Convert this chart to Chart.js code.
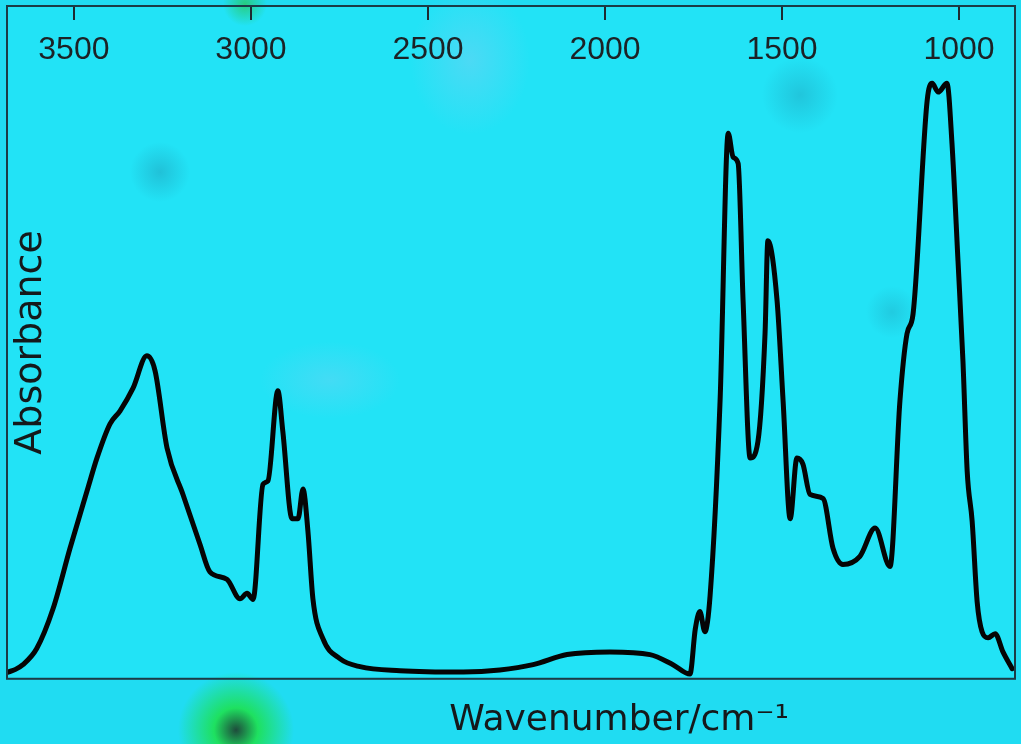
<!DOCTYPE html>
<html>
<head>
<meta charset="utf-8">
<script src="https://cdn.jsdelivr.net/npm/chart.js@4"></script>
<style>
  html, body { margin: 0; padding: 0; }
  body {
    width: 1021px; height: 744px; overflow: hidden;
    background:
      radial-gradient(circle at 236px 730px, rgba(30,60,40,0.9) 0, rgba(30,225,80,0.9) 22px, rgba(40,225,140,0) 58px),
      radial-gradient(circle at 245px 4px, rgba(40,200,100,0.8) 0, rgba(40,220,160,0) 22px),
      radial-gradient(circle at 160px 172px, rgba(30,130,160,0.35) 0, rgba(30,130,160,0) 30px),
      radial-gradient(circle at 800px 95px, rgba(30,130,160,0.3) 0, rgba(30,130,160,0) 38px),
      radial-gradient(circle at 892px 312px, rgba(30,130,160,0.25) 0, rgba(30,130,160,0) 26px),
      radial-gradient(ellipse at 470px 60px, rgba(200,190,240,0.25) 0, rgba(200,190,240,0) 60px),
      radial-gradient(ellipse at 330px 380px, rgba(200,190,240,0.2) 0, rgba(200,190,240,0) 70px),
      linear-gradient(#22e3f6, #22e3f6) 7px 6px / 1008px 671px no-repeat,
      #20dcf2;
  }
  #wrap { position: relative; width: 1021px; height: 744px; }
  canvas { display: block; }
</style>
</head>
<body>
<div id="wrap"><canvas id="ftir" width="1021" height="744"></canvas></div>
<script>
// FTIR spectrum
var wavenumbers = [
    3686, 3665, 3644, 3605, 3559, 3511, 3463, 3435, 3398, 3370,
    3333, 3294, 3271, 3237, 3192, 3144, 3116, 3068, 3031, 3011,
    2994, 2966, 2952, 2924, 2910, 2884, 2867, 2853, 2839, 2825,
    2797, 2749, 2692, 2579, 2400, 2297, 2203, 2107, 1986, 1873,
    1808, 1760, 1745, 1732, 1718, 1703, 1675, 1652, 1638, 1624,
    1610, 1590, 1568, 1548, 1540, 1514, 1497, 1477, 1458, 1441,
    1421, 1384, 1356, 1328, 1280, 1237, 1195, 1167, 1147, 1130,
    1090, 1076, 1059, 1034, 1020, 1003, 989, 977, 963, 949,
    935, 918, 898, 876, 850
];
var absorbance = [
    0.010, 0.014, 0.021, 0.045, 0.104, 0.194, 0.279, 0.328, 0.379, 0.398,
    0.432, 0.480, 0.458, 0.343, 0.274, 0.200, 0.159, 0.148, 0.119, 0.127,
    0.118, 0.289, 0.294, 0.428, 0.368, 0.238, 0.238, 0.282, 0.219, 0.119,
    0.060, 0.030, 0.018, 0.012, 0.010, 0.013, 0.021, 0.036, 0.040, 0.036,
    0.021, 0.007, 0.074, 0.100, 0.070, 0.125, 0.413, 0.811, 0.775, 0.766,
    0.562, 0.328, 0.353, 0.513, 0.651, 0.562, 0.413, 0.238, 0.328, 0.319,
    0.274, 0.268, 0.194, 0.170, 0.182, 0.224, 0.167, 0.413, 0.513, 0.542,
    0.860, 0.885, 0.872, 0.885, 0.796, 0.621, 0.472, 0.308, 0.234, 0.115,
    0.070, 0.061, 0.067, 0.040, 0.015
];
var tickValues = [1000, 1500, 2000, 2500, 3000, 3500];
var xMin = 842, xMax = 3689;

var points = wavenumbers.map(function (wn, i) {
    return { x: wn, y: absorbance[i] };
});

// box round the plot area
var frame = {
    id: 'frame',
    afterDraw: function (chart) {
        var a = chart.chartArea, ctx = chart.ctx;
        ctx.save();
        ctx.strokeStyle = '#1b3b46';
        ctx.lineWidth = 2;
        ctx.strokeRect(a.left, a.top, a.right - a.left, a.bottom - a.top);
        ctx.restore();
    }
};

new Chart(document.getElementById('ftir'), {
    type: 'line',
    data: {
        datasets: [{
            data: points,
            borderColor: '#050505',
            borderWidth: 5,
            borderJoinStyle: 'round',
            borderCapStyle: 'round',
            pointRadius: 0,
            cubicInterpolationMode: 'monotone',
            fill: false
        }]
    },
    options: {
        responsive: false,
        animation: false,
        layout: { padding: { top: 6, left: 7, right: 6, bottom: 0 } },
        plugins: { legend: { display: false }, tooltip: { enabled: false } },
        scales: {
            x: {
                type: 'linear',
                position: 'top',
                reverse: true,
                min: xMin,
                max: xMax,
                afterBuildTicks: function (scale) {
                    scale.ticks = tickValues.map(function (v) { return { value: v }; });
                },
                // ticks and labels sit inside the frame
                afterFit: function (scale) { scale.height = 0; },
                border: { display: false },
                grid: {
                    drawOnChartArea: false,
                    drawTicks: true,
                    tickLength: -14,
                    color: '#1e2a30',
                    lineWidth: 2
                },
                ticks: {
                    mirror: true,
                    autoSkip: false,
                    maxRotation: 0,
                    padding: 25,
                    color: '#1c2226',
                    font: { family: '"Liberation Sans", Arial, sans-serif', size: 32 },
                    callback: function (v) { return String(v); }
                }
            },
            x2: {
                type: 'linear',
                position: 'bottom',
                reverse: true,
                min: xMin,
                max: xMax,
                border: { display: false },
                grid: { display: false, drawTicks: false },
                ticks: { display: false },
                title: {
                    display: true,
                    text: '\u2003\u2003\u2003\u2003\u2003\u2003Wavenumber/cm\u207B\u00B9',
                    color: '#15191b',
                    padding: { top: 20, bottom: 2 },
                    font: { family: '"DejaVu Sans", sans-serif', size: 36 }
                }
            },
            y: {
                min: 0,
                max: 1,
                afterFit: function (scale) { scale.width = 0; },
                border: { display: false },
                grid: { display: false, drawTicks: false },
                ticks: { display: false },
                title: {
                    display: true,
                    text: 'Absorbance',
                    color: '#15191b',
                    padding: { top: 1, bottom: 0 },
                    font: { family: '"DejaVu Sans", sans-serif', size: 38 }
                }
            }
        }
    },
    plugins: [frame]
});
</script>
</body>
</html>
